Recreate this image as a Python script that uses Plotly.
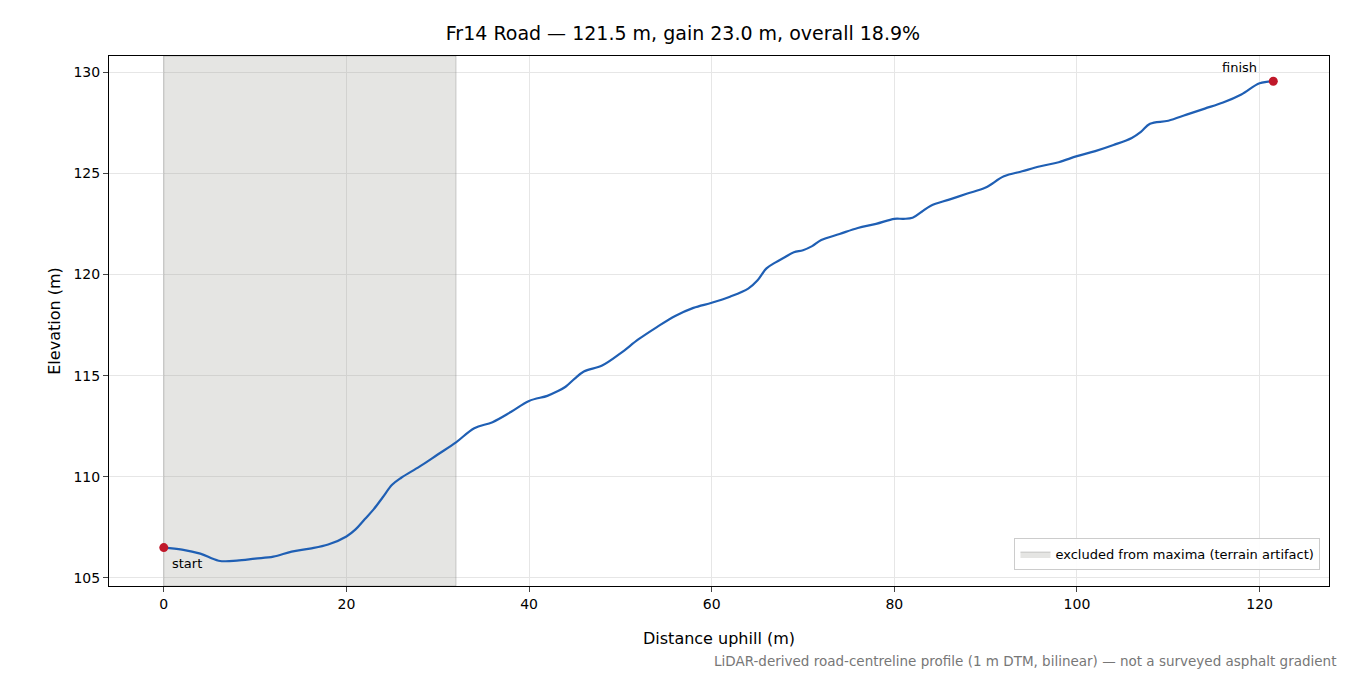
import plotly.graph_objects as go

dist = [0, 2, 4, 6, 8, 10, 12, 14, 16, 18, 20, 21, 22, 23, 24, 25, 26, 28, 30, 32,
        34, 36, 38, 40, 42, 43, 44, 45, 46, 48, 50, 52, 54, 56, 58, 60, 62, 64, 65,
        66, 67, 68, 69, 70, 71, 72, 74, 76, 78, 80, 81, 82, 83, 84, 86, 88, 90, 92,
        94, 96, 98, 100, 102, 104, 106, 107, 108, 110, 112, 114, 116, 118, 120, 121.5]
elev = [106.5, 106.4, 106.2, 105.85, 105.85, 105.95, 106.05, 106.3, 106.45, 106.65,
        107.05, 107.4, 107.9, 108.4, 109.0, 109.6, 109.95, 110.5, 111.1, 111.7,
        112.4, 112.7, 113.2, 113.75, 114.0, 114.2, 114.45, 114.85, 115.2, 115.5,
        116.1, 116.8, 117.4, 117.95, 118.35, 118.6, 118.9, 119.3, 119.7, 120.3,
        120.6, 120.85, 121.1, 121.2, 121.4, 121.7, 122.0, 122.3, 122.5, 122.75,
        122.75, 122.8, 123.1, 123.4, 123.7, 124.0, 124.3, 124.85, 125.1, 125.35,
        125.55, 125.85, 126.1, 126.4, 126.75, 127.05, 127.45, 127.6, 127.9, 128.2,
        128.5, 128.9, 129.45, 129.55]
excluded_to = 32

fig = go.Figure()
fig.add_trace(go.Scatter(x=[0, excluded_to, excluded_to, 0, 0], y=[104.6, 104.6, 130.8, 130.8, 104.6],
                         fill="toself", fillcolor="rgba(150,150,145,0.25)", mode="lines",
                         line=dict(color="rgba(120,120,120,0.35)", width=1),
                         name="excluded from maxima (terrain artifact)"))
fig.add_trace(go.Scatter(x=dist, y=elev, mode="lines", line=dict(color="#1f5fb4", width=2.2),
                         line_shape="spline", showlegend=False))
fig.add_trace(go.Scatter(x=[dist[0], dist[-1]], y=[elev[0], elev[-1]], mode="markers",
                         marker=dict(color="#c0182a", size=9), showlegend=False))
fig.add_annotation(x=dist[0], y=elev[0], text="start", showarrow=False, xanchor="left",
                   yanchor="top", xshift=6, yshift=-6, font=dict(size=13))
fig.add_annotation(x=dist[-1], y=elev[-1], text="finish", showarrow=False, xanchor="right",
                   yanchor="bottom", xshift=-14, yshift=4, font=dict(size=13))
fig.add_annotation(xref="paper", yref="paper", x=1.0075, y=-0.16, text="LiDAR-derived road-centreline profile (1 m DTM, bilinear) — not a surveyed asphalt gradient",
                   showarrow=False, xanchor="right", yanchor="bottom", font=dict(size=13.5, color="#777"))

fig.update_layout(
    width=1350, height=675, plot_bgcolor="white", paper_bgcolor="white",
    font=dict(family="DejaVu Sans", size=14, color="black"),
    title=dict(text="Fr14 Road — 121.5 m, gain 23.0 m, overall 18.9%", x=0.5, y=0.972, font=dict(size=19)),
    margin=dict(l=101, r=29, t=48, b=97),
    legend=dict(x=0.993, y=0.03, xanchor="right", yanchor="bottom", bordercolor="#ccc", borderwidth=1,
                font=dict(size=13), bgcolor="rgba(255,255,255,0.9)"),
    xaxis=dict(title=dict(text="Distance uphill (m)", standoff=22, font=dict(size=16)), range=[-6, 127.6], dtick=20, showgrid=True, gridcolor="#e6e6e6",
               zeroline=False, showline=True, linecolor="black", mirror=True, ticks="outside"),
    yaxis=dict(title=dict(text="Elevation (m)", standoff=8, font=dict(size=16)), range=[104.6, 130.8], dtick=5, showgrid=True, gridcolor="#e6e6e6",
               zeroline=False, showline=True, linecolor="black", mirror=True, ticks="outside"),
)
fig.write_html("out.html")
